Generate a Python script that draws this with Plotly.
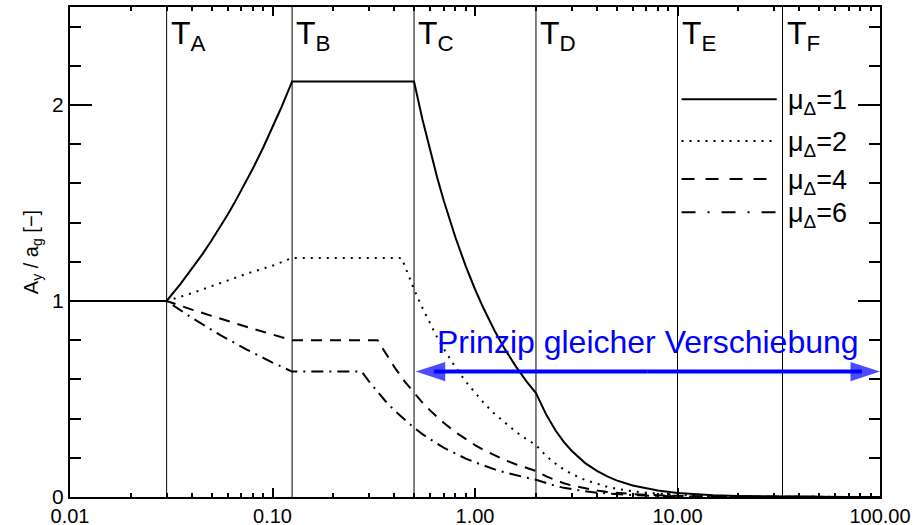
import math
import plotly.graph_objects as go

# ---------------- data ----------------
# characteristic periods (s) and their labels
T_marks = [0.03, 0.125, 0.5, 2.0, 10.0, 33.0]
T_names = ["A", "B", "C", "D", "E", "F"]

# mu = 1 (elastic)
T_mu1 = [0.01, 0.03, 0.035, 0.04, 0.045, 0.05, 0.055, 0.06, 0.065, 0.07, 0.075, 0.08, 0.09, 0.1, 0.11,
         0.125, 0.5, 0.55, 0.6, 0.65, 0.7, 0.8, 0.9, 1.0,
         1.1, 1.25, 1.4, 1.6, 1.8, 2.0, 2.25, 2.5, 2.75, 3, 3.5, 4, 4.5, 5, 6, 7, 8, 10, 12.5,
         15, 20, 25, 30, 40, 50, 70, 100]
A_mu1 = [1.0, 1.0, 1.085, 1.164, 1.238, 1.309, 1.376, 1.44, 1.502, 1.562, 1.62, 1.676, 1.783, 1.885, 1.982,
         2.12, 2.12, 1.927, 1.767, 1.631, 1.514, 1.325, 1.178, 1.06,
         0.964, 0.848, 0.757, 0.6625, 0.589, 0.53, 0.419, 0.339, 0.280, 0.236, 0.173, 0.133, 0.105, 0.085,
         0.059, 0.043, 0.033, 0.021, 0.0136, 0.0094, 0.0053, 0.0034, 0.0024, 0.0013, 0.0008, 0.0004, 0.0002]

# mu = 2
T_mu2 = [0.01, 0.03, 0.04, 0.055, 0.075, 0.1, 0.125, 0.434, 0.45, 0.5, 0.55, 0.6, 0.65, 0.7, 0.8, 0.9,
         1.0, 1.1, 1.25, 1.4, 1.6, 1.8, 2.0, 2.25, 2.5, 2.75, 3, 3.5, 4, 4.5, 5, 6, 7, 8, 10, 12.5,
         15, 20, 25, 30, 40, 50, 70, 100]
A_mu2 = [1.0, 1.0, 1.04, 1.09, 1.14, 1.18, 1.22, 1.22, 1.178, 1.06, 0.964, 0.883, 0.815, 0.757, 0.6625,
         0.589, 0.53, 0.482, 0.424, 0.379, 0.331, 0.294, 0.265, 0.209, 0.170, 0.140, 0.118, 0.0865, 0.066,
         0.052, 0.042, 0.029, 0.022, 0.017, 0.011, 0.0068, 0.0047, 0.0027, 0.0017, 0.0012, 0.0007, 0.0004,
         0.0002, 0.0001]

# mu = 4
T_mu4 = [0.01, 0.03, 0.04, 0.055, 0.075, 0.1, 0.125, 0.33, 0.36, 0.4, 0.45, 0.5, 0.55, 0.6, 0.65, 0.7,
         0.8, 0.9, 1.0, 1.1, 1.25, 1.4, 1.6, 1.8, 2.0, 2.25, 2.5, 2.75, 3, 3.5, 4, 4.5, 5, 6, 7, 8, 10,
         12.5, 15, 20, 25, 30, 40, 50, 70, 100]
A_mu4 = [1.0, 1.0, 0.956, 0.91, 0.867, 0.829, 0.80, 0.80, 0.736, 0.6625, 0.589, 0.53, 0.482, 0.442, 0.408,
         0.379, 0.331, 0.294, 0.265, 0.241, 0.212, 0.189, 0.166, 0.147, 0.1325, 0.105, 0.085, 0.070, 0.059,
         0.043, 0.033, 0.026, 0.021, 0.0147, 0.0108, 0.0083, 0.0053, 0.0034, 0.0024, 0.0013, 0.0008,
         0.0006, 0.0003, 0.0002, 0.0001, 0.00005]

# mu = 6
T_mu6 = [0.01, 0.03, 0.04, 0.055, 0.075, 0.1, 0.125, 0.276, 0.3, 0.33, 0.36, 0.4, 0.45, 0.5, 0.55, 0.6,
         0.65, 0.7, 0.8, 0.9, 1.0, 1.1, 1.25, 1.4, 1.6, 1.8, 2.0, 2.25, 2.5, 2.75, 3, 3.5, 4, 4.5, 5, 6,
         7, 8, 10, 12.5, 15, 20, 25, 30, 40, 50, 70, 100]
A_mu6 = [1.0, 1.0, 0.914, 0.827, 0.751, 0.686, 0.64, 0.64, 0.589, 0.535, 0.491, 0.442, 0.393, 0.353, 0.321,
         0.294, 0.272, 0.252, 0.221, 0.196, 0.177, 0.161, 0.141, 0.126, 0.110, 0.098, 0.088, 0.070, 0.0565,
         0.0467, 0.039, 0.029, 0.022, 0.0175, 0.014, 0.0098, 0.0072, 0.0055, 0.0035, 0.0023, 0.0016,
         0.0009, 0.0006, 0.0004, 0.0002, 0.00014, 0.00007, 0.00004]

series_labels = ["μ<sub>Δ</sub>=1", "μ<sub>Δ</sub>=2", "μ<sub>Δ</sub>=4", "μ<sub>Δ</sub>=6"]

# equal displacement arrow (period range and level)
arrow_T = [0.51, 100.0]
arrow_A = 0.64
arrow_text = "Prinzip gleicher Verschiebung"

x_tickvals = [0.01, 0.1, 1, 10, 100]
x_ticktext = ["0.01", "0.10", "1.00", "10.00", "100.00"]
y_tickvals = [0, 1, 2]
y_range = [0, 2.5]

# ---------------- styles ----------------
FONT = "Liberation Sans, Arial, Helvetica, sans-serif"
dashes = ["solid", "2px,6px", "11px,8px", "12px,6px,2px,6px"]
legend_dashes = ["solid", "2px,6px", "13px,11px", "14px,12px,2px,12px"]

fig = go.Figure()

# vertical period lines
for t in T_marks:
    fig.add_trace(go.Scatter(x=[t, t], y=y_range, mode="lines",
                             line=dict(color="black", width=1),
                             showlegend=False, hoverinfo="skip"))

curves = [(T_mu1, A_mu1), (T_mu2, A_mu2), (T_mu4, A_mu4), (T_mu6, A_mu6)]
for (T, A), d in zip(curves, dashes):
    fig.add_trace(go.Scatter(x=T, y=A, mode="lines",
                             line=dict(color="black", width=2, dash=d),
                             showlegend=False, hoverinfo="skip"))

# double arrow: two halves from the middle, each with an arrow head at its end
mid = math.sqrt(arrow_T[0] * arrow_T[1])
for end in arrow_T:
    fig.add_trace(go.Scatter(x=[mid, end], y=[arrow_A, arrow_A], mode="lines+markers",
                             line=dict(color="#0000ff", width=4, backoff=18),
                             marker=dict(symbol="arrow", size=[0, 31], angleref="previous",
                                         color="#0000ff", line=dict(width=0)),
                             showlegend=False, hoverinfo="skip", cliponaxis=False))

annotations = []
# period labels
for t, n in zip(T_marks, T_names):
    annotations.append(dict(x=math.log10(t), y=1, xref="x", yref="paper",
                            text="T<sub>%s</sub>" % n, showarrow=False,
                            xanchor="left", yanchor="top", xshift=2, yshift=-6,
                            font=dict(family=FONT, size=32, color="black")))

# arrow text
annotations.append(dict(x=(math.log10(arrow_T[0]) + math.log10(arrow_T[1])) / 2,
                        y=arrow_A, xref="x", yref="y", text=arrow_text, showarrow=False,
                        xanchor="center", yanchor="bottom", yshift=10,
                        font=dict(family=FONT, size=32, color="#0000ff")))

# custom legend
shapes = []
leg_y = [0.8116, 0.7265, 0.649, 0.581]
for lab, d, yy in zip(series_labels, legend_dashes, leg_y):
    shapes.append(dict(type="line", xref="paper", yref="paper", x0=0.755, x1=0.8725,
                       y0=yy, y1=yy, line=dict(color="black", width=2, dash=d)))
    annotations.append(dict(x=0.8845, y=yy, xref="paper", yref="paper", text=lab,
                            showarrow=False, xanchor="left", yanchor="middle", yshift=-3,
                            font=dict(family=FONT, size=27, color="black")))

minor_x = [m * 10 ** k for k in range(-2, 2) for m in range(2, 10)]

fig.update_layout(
    width=919, height=525,
    margin=dict(l=70, r=39, t=7, b=28, autoexpand=False),
    paper_bgcolor="white", plot_bgcolor="white",
    font=dict(family=FONT, size=21, color="black"),
    shapes=shapes, annotations=annotations,
    showlegend=False,
)
fig.update_xaxes(type="log", range=[-2, 2], tickvals=x_tickvals, ticktext=x_ticktext,
                 ticks="inside", ticklen=9, tickwidth=1.5, tickcolor="black",
                 showline=True, linecolor="black", linewidth=2, mirror="ticks",
                 showgrid=False, zeroline=False, automargin=False,
                 tickfont=dict(family=FONT, size=20),
                 minor=dict(tickvals=minor_x, ticks="inside", ticklen=4, tickwidth=1.5,
                            tickcolor="black", showgrid=False))
fig.update_yaxes(range=y_range, tickvals=y_tickvals, automargin=False,
                 ticks="inside", ticklen=22, tickwidth=2, tickcolor="black",
                 showline=True, linecolor="black", linewidth=2, mirror="ticks",
                 showgrid=False, zeroline=False,
                 tickfont=dict(family=FONT, size=21),
                 minor=dict(dtick=0.2, ticks="inside", ticklen=11, tickwidth=2,
                            tickcolor="black", showgrid=False),
                 title=dict(text="A<sub>y</sub> / a<sub>g</sub> [−]", standoff=8,
                            font=dict(family=FONT, size=20)))

fig.write_html("out.html")
